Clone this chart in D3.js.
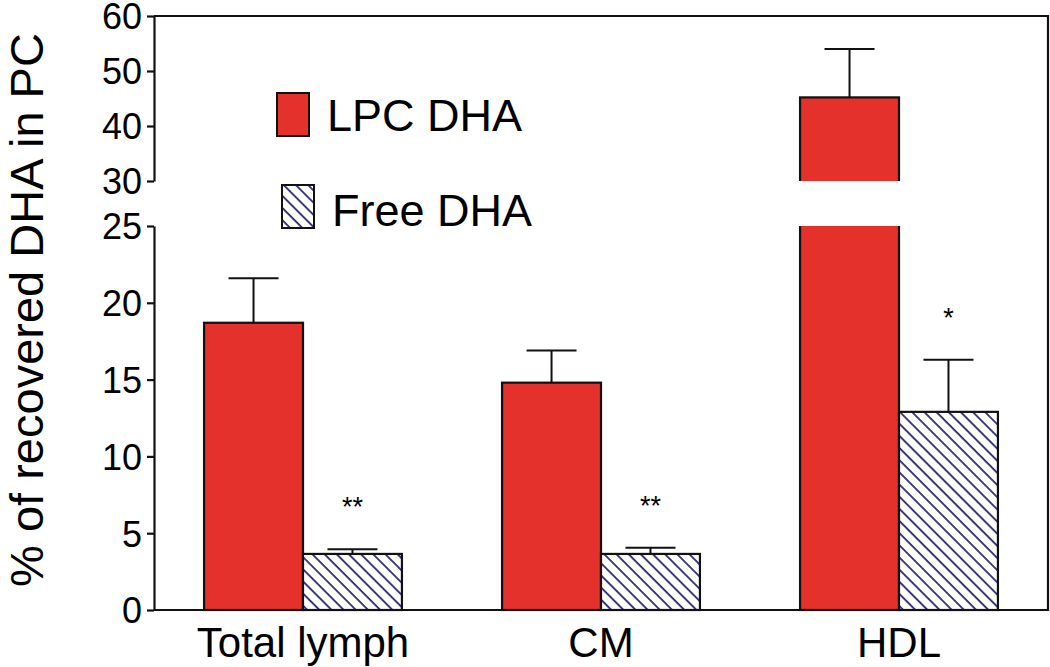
<!DOCTYPE html>
<html>
<head>
<meta charset="utf-8">
<script src="https://cdn.jsdelivr.net/npm/d3@7"></script>
<style>
  html, body { margin: 0; padding: 0; background: #ffffff; }
  svg { display: block; }
  text { font-family: "Liberation Sans", Arial, Helvetica, sans-serif; fill: #000; }
</style>
</head>
<body>
<svg id="chart" width="1050" height="667"></svg>
<script>
// ---- data ----
const categories = ["Total lymph", "CM", "HDL"];
const seriesNames = ["LPC DHA", "Free DHA"];
const lpcValues = [18.7, 14.8, 45.2];
const lpcErrors = [2.9, 2.1, 8.8];
const freeValues = [3.65, 3.65, 12.9];
const freeErrors = [0.3, 0.4, 3.4];
const significance = ["**", "**", "*"];
const lowerTicks = [0, 5, 10, 15, 20, 25];
const upperTicks = [30, 40, 50, 60];
const yTitle = "% of recovered DHA in PC";

// ---- layout ----
const left = 154, right = 1048;
const svg = d3.select("#chart");
const red = "#e4312b", hatchColor = "#2e2b74";

const x0 = d3.scaleBand().domain(categories).range([left, right]).paddingInner(0.336).paddingOuter(0.168);
const x1 = d3.scaleBand().domain(seriesNames).range([0, x0.bandwidth()]);
const yLow = d3.scaleLinear().domain([0, 25]).range([610, 226]);
const yHigh = d3.scaleLinear().domain([30, 60]).range([181, 16]);
const yAny = v => v > 27.5 ? yHigh(v) : yLow(v);

// hatch pattern
const defs = svg.append("defs");
const P = 8.6;
const pat = defs.append("pattern").attr("id", "hatch").attr("patternUnits", "userSpaceOnUse")
  .attr("width", P).attr("height", P).attr("patternTransform", "rotate(-45)");
pat.append("rect").attr("width", P).attr("height", P).attr("fill", "#fff");
pat.append("line").attr("x1", 1).attr("x2", 1).attr("y1", 0).attr("y2", P)
  .attr("stroke", hatchColor).attr("stroke-width", 1.8);

defs.append("clipPath").attr("id", "clipLow").append("rect")
  .attr("x", left - 10).attr("y", yLow(25)).attr("width", right - left + 20).attr("height", yLow(0) - yLow(25) + 5);
defs.append("clipPath").attr("id", "clipHigh").append("rect")
  .attr("x", left - 10).attr("y", 0).attr("width", right - left + 20).attr("height", yHigh(30));

const rows = categories.map((c, i) => [
  { cat: c, s: seriesNames[0], v: lpcValues[i], e: lpcErrors[i] },
  { cat: c, s: seriesNames[1], v: freeValues[i], e: freeErrors[i] }
]).flat();

const fillOf = s => s === seriesNames[0] ? red : "url(#hatch)";

// lower panel bars
svg.append("g").attr("clip-path", "url(#clipLow)")
  .selectAll("rect").data(rows).join("rect")
  .attr("x", d => x0(d.cat) + x1(d.s))
  .attr("width", x1.bandwidth())
  .attr("y", d => d.v > 25 ? yLow(25) - 6 : yLow(d.v))
  .attr("height", d => yLow(0) - (d.v > 25 ? yLow(25) - 6 : yLow(d.v)))
  .attr("fill", d => fillOf(d.s))
  .attr("stroke", "#111").attr("stroke-width", 2.2);

// upper panel bars
svg.append("g").attr("clip-path", "url(#clipHigh)")
  .selectAll("rect").data(rows.filter(d => d.v > 30)).join("rect")
  .attr("x", d => x0(d.cat) + x1(d.s))
  .attr("width", x1.bandwidth())
  .attr("y", d => yHigh(d.v))
  .attr("height", d => yHigh(30) + 6 - yHigh(d.v))
  .attr("fill", d => fillOf(d.s))
  .attr("stroke", "#111").attr("stroke-width", 2.2);

// error bars
const eb = svg.append("g").attr("stroke", "#111").attr("stroke-width", 2);
rows.forEach(d => {
  const cx = x0(d.cat) + x1(d.s) + x1.bandwidth() / 2;
  eb.append("line").attr("x1", cx).attr("x2", cx).attr("y1", yAny(d.v)).attr("y2", yAny(d.v + d.e));
  eb.append("line").attr("x1", cx - 25).attr("x2", cx + 25).attr("y1", yAny(d.v + d.e)).attr("y2", yAny(d.v + d.e));
});

// significance stars
svg.append("g").selectAll("text").data(categories).join("text")
  .attr("x", (c, i) => x0(c) + x1(seriesNames[1]) + x1.bandwidth() / 2)
  .attr("y", (c, i) => yAny(freeValues[i] + freeErrors[i]) - 33)
  .attr("text-anchor", "middle").attr("font-size", 27)
  .text((c, i) => significance[i]);

// axes
const axLow = svg.append("g").attr("transform", `translate(${left},0)`)
  .call(d3.axisLeft(yLow).tickValues(lowerTicks).tickSize(7).tickSizeOuter(0).tickPadding(5));
const axHigh = svg.append("g").attr("transform", `translate(${left},0)`)
  .call(d3.axisLeft(yHigh).tickValues(upperTicks).tickSize(7).tickSizeOuter(0).tickPadding(5));
[axLow, axHigh].forEach(a => {
  a.selectAll("path,line").attr("stroke", "#111").attr("stroke-width", 2.2);
  a.selectAll("text").attr("font-size", 36).attr("dy", "0.36em")
    .attr("font-family", "Liberation Sans, Arial, sans-serif").attr("fill", "#111");
});

// frame
svg.append("path")
  .attr("d", `M${left},${yHigh(60)}H${right}V${yLow(0)}H${left}`)
  .attr("fill", "none").attr("stroke", "#111").attr("stroke-width", 2.2);

// category labels
svg.append("g").selectAll("text").data(categories).join("text")
  .attr("x", c => x0(c) + x0.bandwidth() / 2)
  .attr("y", 657)
  .attr("text-anchor", "middle").attr("font-size", 42)
  .text(c => c);

// y title
svg.append("text")
  .attr("transform", "translate(43,310) rotate(-90)")
  .attr("text-anchor", "middle").attr("font-size", 47)
  .text(yTitle);

// legend
const legend = [
  { name: seriesNames[0], rx: 277, ry: 93, tx: 327, ty: 131 },
  { name: seriesNames[1], rx: 282, ry: 185, tx: 332, ty: 226 }
];
const lg = svg.append("g");
legend.forEach(l => {
  lg.append("rect").attr("x", l.rx).attr("y", l.ry).attr("width", 32).attr("height", 43)
    .attr("fill", fillOf(l.name)).attr("stroke", "#111").attr("stroke-width", 2);
  lg.append("text").attr("x", l.tx).attr("y", l.ty).attr("font-size", 45).text(l.name);
});
</script>
</body>
</html>
